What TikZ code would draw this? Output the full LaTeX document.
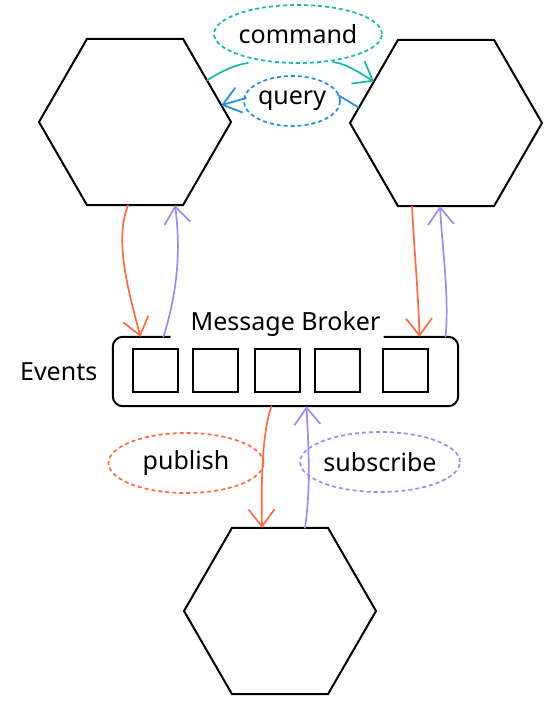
\documentclass[tikz,border=0pt]{standalone}
\usepackage{fontspec}
\setmainfont{Noto Sans}
\usetikzlibrary{positioning, calc, shapes.geometric, arrows.meta}

\definecolor{pubcol}{HTML}{FF6B3D}
\definecolor{subcol}{HTML}{9A8CF0}
\definecolor{cmdcol}{HTML}{14B9A2}
\definecolor{qrycol}{HTML}{1C8CE8}

\tikzset{
    service/.style={draw, regular polygon, regular polygon sides=6, minimum size=192pt,
        inner sep=0pt, outer sep=0pt, line width=2pt},
    slot/.style={draw, line width=2pt, minimum width=45pt, minimum height=43pt, inner sep=0pt},
    bubble/.style={ellipse, draw, line width=1.7pt, dash pattern=on 4pt off 3pt, inner sep=0pt},
    flow/.style={line width=1.7pt, line cap=round},
    headed/.style={-{Straight Barb[length=17pt,width=26pt]}}
}

\begin{document}
\begin{tikzpicture}[x=1pt, y=-1pt, font=\fontsize{25pt}{30pt}\selectfont]
    \useasboundingbox (0,0) rectangle (553,707);

    % services
    \node[service] (svcA) at (135,122) {};
    \node[service] (svcB) at (446,123) {};
    \node[service] (svcC) at (280,611) {};

    % broker with its queue
    \node[minimum width=345pt, minimum height=69pt, inner sep=0pt] (broker) at (285.5,371.5) {};
    \draw[line width=2pt, rounded corners=10pt] ([xshift=-115pt]broker.north) -- (broker.north west)
        -- (broker.south west) -- (broker.south east) -- (broker.north east) -- ([xshift=98pt]broker.north);
    \node[anchor=base] (brokername) at ([yshift=6pt]broker.north) {Message Broker};
    \node[left=12pt of broker] (events) {Events};
    \foreach \i/\x in {1/155.5, 2/215, 3/277.5, 4/337.5, 5/405.5}
        \node[slot] (q\i) at (\x,370.5) {};

    % labels
    \node[bubble, draw=cmdcol, minimum width=154pt, minimum height=58pt] (cmd) at (298,34) {command};
    \node[bubble, draw=qrycol, minimum width=92pt, minimum height=50pt] (qry) at (292,101) {query};
    \node[bubble, draw=pubcol, minimum width=155pt, minimum height=60pt] (pub) at (186,463) {publish};
    \node[bubble, draw=subcol, minimum width=155pt, minimum height=60pt] (sub) at (380,462) {subscribe};

    \coordinate (cmdL) at (248,63);
    \coordinate (cmdR) at (333,62);
    \coordinate (qryR) at (338,95);
    \coordinate (qryL) at (246,98);

    % command and query
    \draw[flow, cmdcol] (svcA.30) .. controls +(14,-9) and +(-14,2) .. (cmdL);
    \draw[flow, cmdcol, headed] (cmdR) .. controls +(15,2) and +(-14,-8) .. (svcB.150);
    \draw[flow, qrycol] (svcB.170) -- (qryR);
    \draw[flow, qrycol, headed] (qryL) -- (svcA.11);

    % events
    \draw[flow, pubcol, headed] ([xshift=-7pt]svcA.south) .. controls +(-14,35) and +(-12,-45) .. ([xshift=-145pt]broker.north);
    \draw[flow, subcol, headed] ([xshift=-122pt]broker.north) .. controls +(14,-45) and +(6,45) .. ([xshift=40pt]svcA.south);
    \draw[flow, pubcol, headed] ([xshift=-34pt]svcB.south) .. controls +(2,40) and +(-1,-40) .. ([xshift=134pt]broker.north);
    \draw[flow, subcol, headed] ([xshift=160pt]broker.north) .. controls +(4,-40) and +(2,40) .. ([xshift=-6pt]svcB.south);
    \draw[flow, pubcol, headed] ([xshift=-14pt]broker.south) .. controls +(-9,25) and +(-1,-50) .. ([xshift=-18pt]svcC.north);
    \draw[flow, subcol, headed] ([xshift=25pt]svcC.north) .. controls +(6,-40) and +(2,40) .. ([xshift=21pt]broker.south);
\end{tikzpicture}
\end{document}
